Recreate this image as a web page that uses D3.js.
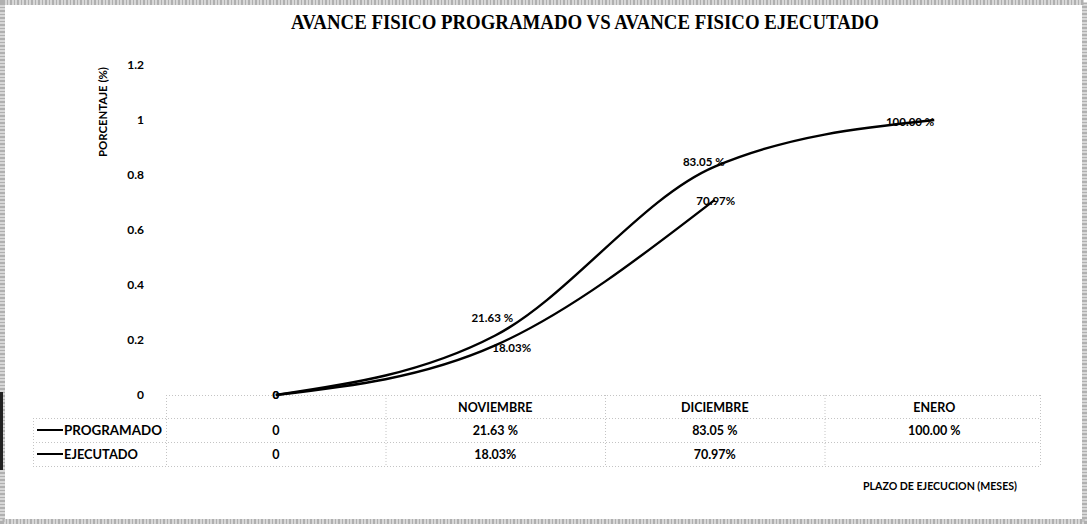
<!DOCTYPE html>
<html>
<head>
<meta charset="utf-8">
<script src="https://cdn.jsdelivr.net/npm/d3@7"></script>
<style>
  html, body { margin: 0; padding: 0; background: #fff; }
  svg { display: block; }
</style>
</head>
<body>
<svg id="chart" width="1087" height="525"></svg>
<script>
// ---- data ----
const categories = ["", "NOVIEMBRE", "DICIEMBRE", "ENERO"];
const programado = [0, 0.2163, 0.8305, 1.0];
const programadoLabels = ["0", "21.63 %", "83.05 %", "100.00 %"];
const ejecutado = [0, 0.1803, 0.7097];
const ejecutadoLabels = ["0", "18.03%", "70.97%"];
const seriesNames = ["PROGRAMADO", "EJECUTADO"];
const yTicks = [0, 0.2, 0.4, 0.6, 0.8, 1, 1.2];
const titleText = "AVANCE FISICO PROGRAMADO VS AVANCE FISICO EJECUTADO";
const yTitle = "PORCENTAJE (%)";
const xTitle = "PLAZO DE EJECUCION (MESES)";

// ---- layout ----
const W = 1087, H = 525;
const svg = d3.select("#chart");
const font = "Lato, 'Open Sans', sans-serif";

const x = d3.scaleBand().domain(categories).range([166, 1044]);
const cx = c => x(c) + x.bandwidth() / 2;
const y = d3.scaleLinear().domain([0, 1.2]).range([395, 65]);

// scanned border
svg.append("rect").attr("x", 2.5).attr("y", 2.5).attr("width", W - 5).attr("height", H - 6)
  .attr("fill", "none").attr("stroke", "#b0b0b0").attr("stroke-width", 5)
  .attr("stroke-dasharray", "3,1,2,1");
svg.append("line").attr("x1", 1.5).attr("x2", 1.5).attr("y1", 392).attr("y2", 470)
  .attr("stroke", "#222").attr("stroke-width", 3);

// title
svg.append("text").attr("x", 585).attr("y", 29).attr("text-anchor", "middle")
  .attr("font-family", "'Liberation Serif', 'DejaVu Serif', serif")
  .attr("font-weight", 700).attr("font-size", 20)
  .attr("textLength", 588).attr("lengthAdjust", "spacingAndGlyphs")
  .attr("fill", "#000").text(titleText);

// y axis tick labels (no axis line)
const yAxis = d3.axisLeft(y).tickValues(yTicks).tickSize(0).tickPadding(0)
  .tickFormat(d => d3.format("")(d));
const yg = svg.append("g").attr("transform", "translate(144,0)").call(yAxis);
yg.select(".domain").remove();
yg.selectAll("text").attr("font-family", font).attr("font-weight", 700)
  .attr("font-size", 12).attr("fill", "#000");

// y title
svg.append("text").attr("transform", "translate(107,112) rotate(-90)")
  .attr("text-anchor", "middle").attr("font-family", font).attr("font-weight", 700)
  .attr("font-size", 11.5).attr("textLength", 90).attr("lengthAdjust", "spacingAndGlyphs")
  .attr("fill", "#000").text(yTitle);

// data table grid (faint dotted)
const rowY = [395, 418, 442, 466];
const grid = svg.append("g").attr("stroke", "#c4c4c4").attr("stroke-width", 1)
  .attr("stroke-dasharray", "1,2").attr("fill", "none");
rowY.slice(1).forEach(ry => {
  grid.append("line").attr("x1", 33).attr("x2", 1040).attr("y1", ry + 0.5).attr("y2", ry + 0.5);
});
grid.append("line").attr("x1", 166).attr("x2", 1040).attr("y1", 395.5).attr("y2", 395.5);
x.domain().forEach((c, i) => {
  grid.append("line").attr("x1", x(c) + 0.5).attr("x2", x(c) + 0.5)
    .attr("y1", 395).attr("y2", 466);
});
grid.append("line").attr("x1", 1040.5).attr("x2", 1040.5).attr("y1", 395).attr("y2", 466);
grid.append("line").attr("x1", 33.5).attr("x2", 33.5).attr("y1", 418).attr("y2", 466);

// table text
const tableFont = sel => sel.attr("font-family", font).attr("font-weight", 700)
  .attr("font-size", 12.5).attr("fill", "#000");
categories.forEach(c => {
  if (c) svg.append("text").attr("x", cx(c)).attr("y", 412).attr("text-anchor", "middle")
    .call(tableFont).text(c);
});
const tableRows = [programadoLabels, ejecutadoLabels];
const rowText = [435, 459];
tableRows.forEach((labs, r) => {
  labs.forEach((l, i) => {
    svg.append("text").attr("x", cx(categories[i])).attr("y", rowText[r])
      .attr("text-anchor", "middle").call(tableFont).text(l);
  });
  // legend key + name
  svg.append("line").attr("x1", 37).attr("x2", 63).attr("y1", rowText[r] - 5).attr("y2", rowText[r] - 5)
    .attr("stroke", "#000").attr("stroke-width", 2);
  svg.append("text").attr("x", 64).attr("y", rowText[r]).call(tableFont)
    .attr("textLength", r === 0 ? 98 : 74).attr("lengthAdjust", "spacingAndGlyphs")
    .text(seriesNames[r]);
});

// x title
svg.append("text").attr("x", 863).attr("y", 490).attr("font-family", font)
  .attr("font-weight", 700).attr("font-size", 11.5).attr("fill", "#000")
  .attr("textLength", 154).attr("lengthAdjust", "spacingAndGlyphs").text(xTitle);

// lines
const line = d3.line().x((d, i) => cx(categories[i])).y(d => y(d))
  .curve(d3.curveMonotoneX);
[programado, ejecutado].forEach(s => {
  svg.append("path").datum(s).attr("d", line).attr("fill", "none")
    .attr("stroke", "#000").attr("stroke-width", 2.4);
});

// data labels (offsets relative to the point: [dx, dy, anchor])
const progOffsets = [[0, 4, "middle"], [-3, -14, "middle"], [-11, -1, "middle"], [0, 6, "end"]];
const ejecOffsets = [[0, 4, "middle"], [-3, 7, "start"], [1, 5, "middle"]];
const labelFont = sel => sel.attr("font-family", font).attr("font-weight", 700)
  .attr("font-size", 11.5).attr("fill", "#000");
[[programado, programadoLabels, progOffsets], [ejecutado, ejecutadoLabels, ejecOffsets]]
  .forEach(([vals, labs, offs]) => {
    vals.forEach((v, i) => {
      const [dx, dy, anc] = offs[i];
      svg.append("text").attr("x", cx(categories[i]) + dx).attr("y", y(v) + dy)
        .attr("text-anchor", anc).call(labelFont).text(labs[i]);
    });
  });
</script>
</body>
</html>
